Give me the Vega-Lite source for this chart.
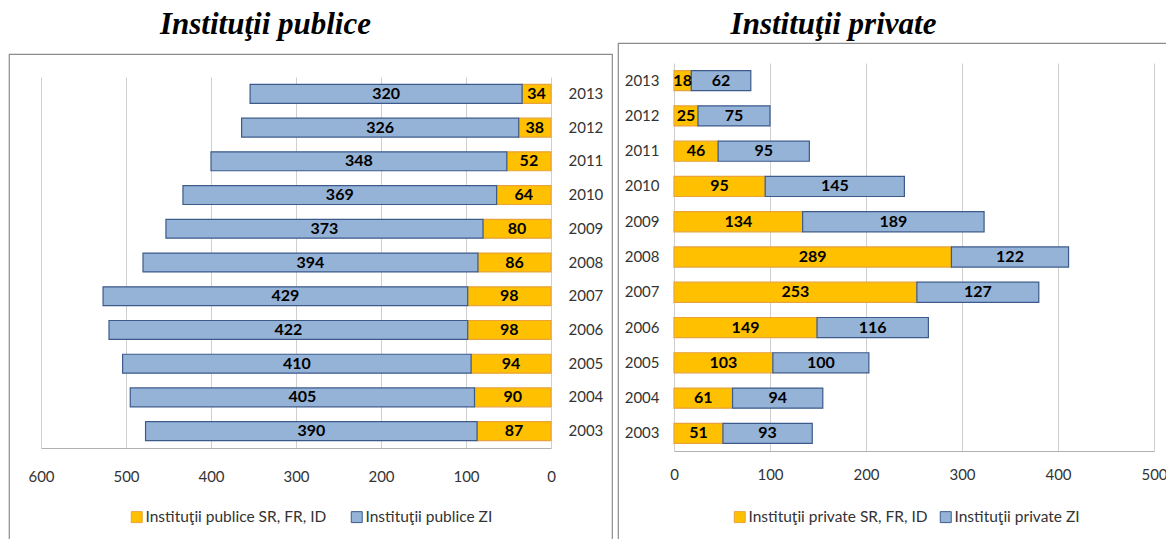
{
  "$schema": "https://vega.github.io/schema/vega-lite/v6.json",
  "background": "white",
  "padding": {"left": 8, "top": 8, "right": 0, "bottom": 0},
  "spacing": 6,
  "bounds": "flush",
  "center": true,
  "config": {
    "view": {"stroke": "#8c8c8c", "strokeWidth": 1.2},
    "font": "Lato"
  },
  "resolve": {"scale": {"color": "independent", "stroke": "independent"}, "legend": {"color": "independent", "stroke": "independent"}},
  "hconcat": [
    {
      "width": 603,
      "height": 488,
      "title": {"text": "Instituţii publice", "font": "Liberation Serif", "fontSize": 31, "fontWeight": "bold", "fontStyle": "italic", "anchor": "middle", "dx": -45, "offset": -11, "baseline": "alphabetic", "color": "black"},
      "data": {"values": [
        {"year": "2013", "series": "Instituţii publice SR, FR, ID", "v": 34},
        {"year": "2013", "series": "Instituţii publice ZI", "v": 320},
        {"year": "2012", "series": "Instituţii publice SR, FR, ID", "v": 38},
        {"year": "2012", "series": "Instituţii publice ZI", "v": 326},
        {"year": "2011", "series": "Instituţii publice SR, FR, ID", "v": 52},
        {"year": "2011", "series": "Instituţii publice ZI", "v": 348},
        {"year": "2010", "series": "Instituţii publice SR, FR, ID", "v": 64},
        {"year": "2010", "series": "Instituţii publice ZI", "v": 369},
        {"year": "2009", "series": "Instituţii publice SR, FR, ID", "v": 80},
        {"year": "2009", "series": "Instituţii publice ZI", "v": 373},
        {"year": "2008", "series": "Instituţii publice SR, FR, ID", "v": 86},
        {"year": "2008", "series": "Instituţii publice ZI", "v": 394},
        {"year": "2007", "series": "Instituţii publice SR, FR, ID", "v": 98},
        {"year": "2007", "series": "Instituţii publice ZI", "v": 429},
        {"year": "2006", "series": "Instituţii publice SR, FR, ID", "v": 98},
        {"year": "2006", "series": "Instituţii publice ZI", "v": 422},
        {"year": "2005", "series": "Instituţii publice SR, FR, ID", "v": 94},
        {"year": "2005", "series": "Instituţii publice ZI", "v": 410},
        {"year": "2004", "series": "Instituţii publice SR, FR, ID", "v": 90},
        {"year": "2004", "series": "Instituţii publice ZI", "v": 405},
        {"year": "2003", "series": "Instituţii publice SR, FR, ID", "v": 87},
        {"year": "2003", "series": "Instituţii publice ZI", "v": 390}
      ]},
      "resolve": {"scale": {"x": "independent", "y": "independent"}},
      "layer": [
        {
          "mark": {"type": "point", "opacity": 0},
          "encoding": {
            "y": {"field": "year", "type": "nominal", "sort": "descending",
              "scale": {"range": [94, 465]}, "axis": null},
            "x": {"field": "v", "type": "quantitative",
              "scale": {"domain": [0, 600], "range": [542, 32], "nice": false},
              "axis": {"orient": "bottom", "values": [0, 100, 200, 300, 400, 500, 600], "grid": true, "gridColor": "#cfcfcf", "gridWidth": 1, "domain": false, "ticks": false, "labels": false, "title": null}}
          }
        },
        {
          "mark": {"type": "bar", "strokeWidth": 1.2},
          "encoding": {
            "y": {"field": "year", "type": "nominal", "sort": "descending",
              "scale": {"range": [23, 394], "paddingInner": 0.44, "paddingOuter": 0.22},
              "axis": {"orient": "right", "offset": -61, "domain": false, "ticks": false, "tickSize": 0, "labelPadding": 17, "labelFontSize": 15, "labelFont": "Lato", "labelColor": "#333333", "title": null, "grid": false}},
            "x": {"field": "v", "type": "quantitative", "stack": "zero",
              "scale": {"domain": [0, 600], "range": [542, 32], "nice": false},
              "axis": {"orient": "bottom", "offset": -94, "values": [0, 100, 200, 300, 400, 500, 600], "grid": false, "domainColor": "#b0b0b0", "ticks": false, "tickSize": 0, "labelPadding": 28, "labelBaseline": "middle", "labelFontSize": 15, "labelFont": "Lato", "labelColor": "#333333", "labelFlush": false, "title": null}},
            "order": {"field": "series", "sort": "ascending"},
            "color": {"field": "series", "type": "nominal",
              "scale": {"range": ["#ffc000", "#95b3d7"]},
              "legend": {"orient": "none", "legendX": 120, "legendY": 455, "direction": "horizontal", "title": null, "symbolType": "square", "symbolSize": 120, "symbolStrokeWidth": 1, "labelFontSize": 15.5, "labelFont": "Lato", "labelColor": "#333333", "labelLimit": 300, "columnPadding": 22, "labelOffset": 1, "padding": 0}},
            "stroke": {"field": "series", "type": "nominal",
              "scale": {"range": ["#e8a33a", "#3c5a8a"]},
              "legend": {"orient": "none", "legendX": 120, "legendY": 455, "direction": "horizontal", "title": null, "symbolType": "square", "symbolSize": 120, "symbolStrokeWidth": 1, "labelFontSize": 15.5, "labelFont": "Lato", "labelColor": "#333333", "labelLimit": 300, "columnPadding": 22, "labelOffset": 1, "padding": 0}}
          }
        },
        {
          "mark": {"type": "text", "fontWeight": "bold", "fontSize": 16, "font": "Lato", "color": "black", "baseline": "middle"},
          "encoding": {
            "y": {"field": "year", "type": "nominal", "sort": "descending",
              "scale": {"range": [23, 394], "paddingInner": 0.44, "paddingOuter": 0.22}, "axis": null},
            "x": {"field": "v", "type": "quantitative", "stack": "zero", "bandPosition": 0.5,
              "scale": {"domain": [0, 600], "range": [542, 32], "nice": false}, "axis": null},
            "order": {"field": "series", "sort": "ascending"},
            "detail": {"field": "series"},
            "text": {"field": "v", "type": "quantitative"}
          }
        }
      ]
    },
    {
      "width": 549,
      "height": 510,
      "title": {"text": "Instituţii private", "font": "Liberation Serif", "fontSize": 31, "fontWeight": "bold", "fontStyle": "italic", "anchor": "middle", "dx": -59, "offset": -22, "baseline": "alphabetic", "color": "black"},
      "data": {"values": [
        {"year": "2013", "series": "Instituţii private SR, FR, ID", "v": 18},
        {"year": "2013", "series": "Instituţii private ZI", "v": 62},
        {"year": "2012", "series": "Instituţii private SR, FR, ID", "v": 25},
        {"year": "2012", "series": "Instituţii private ZI", "v": 75},
        {"year": "2011", "series": "Instituţii private SR, FR, ID", "v": 46},
        {"year": "2011", "series": "Instituţii private ZI", "v": 95},
        {"year": "2010", "series": "Instituţii private SR, FR, ID", "v": 95},
        {"year": "2010", "series": "Instituţii private ZI", "v": 145},
        {"year": "2009", "series": "Instituţii private SR, FR, ID", "v": 134},
        {"year": "2009", "series": "Instituţii private ZI", "v": 189},
        {"year": "2008", "series": "Instituţii private SR, FR, ID", "v": 289},
        {"year": "2008", "series": "Instituţii private ZI", "v": 122},
        {"year": "2007", "series": "Instituţii private SR, FR, ID", "v": 253},
        {"year": "2007", "series": "Instituţii private ZI", "v": 127},
        {"year": "2006", "series": "Instituţii private SR, FR, ID", "v": 149},
        {"year": "2006", "series": "Instituţii private ZI", "v": 116},
        {"year": "2005", "series": "Instituţii private SR, FR, ID", "v": 103},
        {"year": "2005", "series": "Instituţii private ZI", "v": 100},
        {"year": "2004", "series": "Instituţii private SR, FR, ID", "v": 61},
        {"year": "2004", "series": "Instituţii private ZI", "v": 94},
        {"year": "2003", "series": "Instituţii private SR, FR, ID", "v": 51},
        {"year": "2003", "series": "Instituţii private ZI", "v": 93}
      ]},
      "resolve": {"scale": {"x": "independent", "y": "independent"}},
      "layer": [
        {
          "mark": {"type": "point", "opacity": 0},
          "encoding": {
            "y": {"field": "year", "type": "nominal", "sort": "descending",
              "scale": {"range": [102, 490]}, "axis": null},
            "x": {"field": "v", "type": "quantitative",
              "scale": {"domain": [0, 500], "range": [56, 536], "nice": false},
              "axis": {"orient": "bottom", "values": [0, 100, 200, 300, 400, 500], "grid": true, "gridColor": "#cfcfcf", "gridWidth": 1, "domain": false, "ticks": false, "labels": false, "title": null}}
          }
        },
        {
          "mark": {"type": "bar", "strokeWidth": 1.2},
          "encoding": {
            "y": {"field": "year", "type": "nominal", "sort": "descending",
              "scale": {"range": [20, 408], "paddingInner": 0.43, "paddingOuter": 0.215},
              "axis": {"orient": "left", "offset": -56, "domain": false, "ticks": false, "tickSize": 0, "labelPadding": 15, "labelFontSize": 15, "labelFont": "Lato", "labelColor": "#333333", "title": null, "grid": false}},
            "x": {"field": "v", "type": "quantitative", "stack": "zero",
              "scale": {"domain": [0, 500], "range": [56, 536], "nice": false},
              "axis": {"orient": "bottom", "offset": -102, "values": [0, 100, 200, 300, 400, 500], "grid": false, "domainColor": "#b0b0b0", "ticks": false, "tickSize": 0, "labelPadding": 23, "labelBaseline": "middle", "labelFontSize": 15, "labelFont": "Lato", "labelColor": "#333333", "labelFlush": false, "title": null}},
            "order": {"field": "series", "sort": "ascending"},
            "color": {"field": "series", "type": "nominal",
              "scale": {"range": ["#ffc000", "#95b3d7"]},
              "legend": {"orient": "none", "legendX": 114, "legendY": 466, "direction": "horizontal", "title": null, "symbolType": "square", "symbolSize": 120, "symbolStrokeWidth": 1, "labelFontSize": 15.5, "labelFont": "Lato", "labelColor": "#333333", "labelLimit": 300, "columnPadding": 10, "labelOffset": 1, "padding": 0}},
            "stroke": {"field": "series", "type": "nominal",
              "scale": {"range": ["#e8a33a", "#3c5a8a"]},
              "legend": {"orient": "none", "legendX": 114, "legendY": 466, "direction": "horizontal", "title": null, "symbolType": "square", "symbolSize": 120, "symbolStrokeWidth": 1, "labelFontSize": 15.5, "labelFont": "Lato", "labelColor": "#333333", "labelLimit": 300, "columnPadding": 10, "labelOffset": 1, "padding": 0}}
          }
        },
        {
          "mark": {"type": "text", "fontWeight": "bold", "fontSize": 16, "font": "Lato", "color": "black", "baseline": "middle"},
          "encoding": {
            "y": {"field": "year", "type": "nominal", "sort": "descending",
              "scale": {"range": [20, 408], "paddingInner": 0.43, "paddingOuter": 0.215}, "axis": null},
            "x": {"field": "v", "type": "quantitative", "stack": "zero", "bandPosition": 0.5,
              "scale": {"domain": [0, 500], "range": [56, 536], "nice": false}, "axis": null},
            "order": {"field": "series", "sort": "ascending"},
            "detail": {"field": "series"},
            "text": {"field": "v", "type": "quantitative"}
          }
        }
      ]
    }
  ]
}
